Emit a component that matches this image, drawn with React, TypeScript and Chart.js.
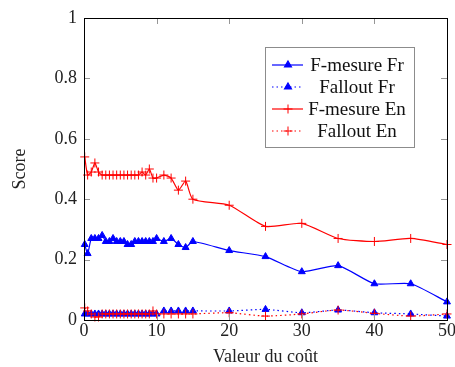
import React, { useEffect, useRef } from "react";
import { Chart, registerables } from "chart.js";

Chart.register(...registerables);

const costValues = [0.1, 0.5, 1, 1.5, 2, 2.5, 3, 3.5, 4, 4.5, 5, 5.5, 6, 6.5, 7, 7.5, 8, 8.5, 9, 9.5, 10, 11, 12, 13, 14, 15, 20, 25, 30, 35, 40, 45, 50];

const fMesureFr = [0.25, 0.22, 0.27, 0.27, 0.27, 0.28, 0.26, 0.26, 0.27, 0.26, 0.26, 0.26, 0.25, 0.25, 0.26, 0.26, 0.26, 0.26, 0.26, 0.26, 0.27, 0.26, 0.27, 0.25, 0.24, 0.26, 0.23, 0.21, 0.16, 0.18, 0.12, 0.12, 0.06];
const falloutFr = [0.02, 0.02, 0.02, 0.02, 0.02, 0.02, 0.02, 0.02, 0.02, 0.02, 0.02, 0.02, 0.02, 0.02, 0.02, 0.02, 0.02, 0.02, 0.02, 0.02, 0.02, 0.03, 0.03, 0.03, 0.03, 0.03, 0.03, 0.035, 0.024, 0.033, 0.024, 0.02, 0.013];
const fMesureEn = [0.54, 0.48, 0.49, 0.52, 0.49, 0.48, 0.48, 0.48, 0.48, 0.48, 0.48, 0.48, 0.48, 0.48, 0.48, 0.48, 0.49, 0.48, 0.5, 0.47, 0.47, 0.48, 0.47, 0.43, 0.46, 0.4, 0.38, 0.31, 0.32, 0.27, 0.26, 0.27, 0.25];
const falloutEn = [0.04, 0.03, 0.02, 0.01, 0.01, 0.02, 0.02, 0.02, 0.02, 0.02, 0.02, 0.02, 0.02, 0.02, 0.02, 0.02, 0.02, 0.02, 0.02, 0.03, 0.02, 0.02, 0.02, 0.02, 0.02, 0.02, 0.024, 0.013, 0.02, 0.033, 0.022, 0.013, 0.02];

const seriesLabels = ["F-mesure Fr", "Fallout Fr", "F-mesure En", "Fallout En"];
const xTitle = "Valeur du coût";
const yTitle = "Score";

const BLUE = "rgb(0,0,255)";
const RED = "rgb(255,0,0)";
const FONT = "'Liberation Serif', serif";

function toPoints(ys: number[]) {
  return costValues.map((x, i) => ({ x, y: ys[i] }));
}

const innerTicks = {
  id: "innerTicks",
  afterDraw(chart: any) {
    const { ctx, chartArea } = chart;
    const { left, right, top, bottom } = chartArea;
    const xs = chart.scales.x;
    const ys = chart.scales.y;
    ctx.save();
    ctx.strokeStyle = "rgb(150,150,150)";
    ctx.lineWidth = 1;
    const L = 6;
    xs.ticks.forEach((t: any) => {
      const px = Math.round(xs.getPixelForValue(t.value)) + 0.5;
      if (px <= left + 1 || px >= right - 1) return;
      ctx.beginPath();
      ctx.moveTo(px, bottom);
      ctx.lineTo(px, bottom - L);
      ctx.moveTo(px, top);
      ctx.lineTo(px, top + L);
      ctx.stroke();
    });
    ys.ticks.forEach((t: any) => {
      const py = Math.round(ys.getPixelForValue(t.value)) + 0.5;
      if (py <= top + 1 || py >= bottom - 1) return;
      ctx.beginPath();
      ctx.moveTo(left, py);
      ctx.lineTo(left + L, py);
      ctx.moveTo(right, py);
      ctx.lineTo(right - L, py);
      ctx.stroke();
    });
    ctx.strokeStyle = "#000";
    ctx.lineWidth = 1;
    ctx.strokeRect(Math.round(left) + 0.5, Math.round(top) + 0.5, Math.round(right - left), Math.round(bottom - top));
    ctx.restore();
  },
};

const boxLegend = {
  id: "boxLegend",
  afterDraw(chart: any) {
    const { ctx } = chart;
    const bx = 265.5, by = 47.5, bw = 149, bh = 100;
    ctx.save();
    ctx.fillStyle = "#fff";
    ctx.fillRect(bx, by, bw, bh);
    ctx.strokeStyle = "rgb(140,140,140)";
    ctx.lineWidth = 1;
    ctx.strokeRect(bx, by, bw, bh);
    const rowY = [65, 87, 109, 131];
    const colors = [BLUE, BLUE, RED, RED];
    const dotted = [false, true, false, true];
    const tri = [true, true, false, false];
    chart.data.datasets.forEach((ds: any, i: number) => {
      const y = rowY[i];
      ctx.strokeStyle = colors[i];
      ctx.lineWidth = 1.2;
      ctx.setLineDash(dotted[i] ? [1.5, 3] : []);
      ctx.beginPath();
      ctx.moveTo(272, y);
      ctx.lineTo(303, y);
      ctx.stroke();
      ctx.setLineDash([]);
      const mx = 288, r = 4;
      if (tri[i]) {
        ctx.fillStyle = colors[i];
        ctx.beginPath();
        ctx.moveTo(mx, y - r);
        ctx.lineTo(mx + r * 0.866, y + r / 2);
        ctx.lineTo(mx - r * 0.866, y + r / 2);
        ctx.closePath();
        ctx.fill();
        ctx.stroke();
      } else {
        ctx.lineWidth = 1;
        ctx.beginPath();
        ctx.moveTo(mx - 4.5, y);
        ctx.lineTo(mx + 4.5, y);
        ctx.moveTo(mx, y - 4.5);
        ctx.lineTo(mx, y + 4.5);
        ctx.stroke();
      }
      ctx.fillStyle = "#111";
      ctx.font = "19px " + FONT;
      ctx.textAlign = "center";
      ctx.textBaseline = "middle";
      ctx.fillText(ds.label, 357, y + 1);
    });
    ctx.restore();
  },
};

function fmt(v: any) {
  return String(Number(Number(v).toFixed(2)));
}

export default function App() {
  const ref = useRef<HTMLCanvasElement>(null);
  useEffect(() => {
    document.body.style.margin = "0";
    const canvas = ref.current;
    if (!canvas) return;
    const chart = new Chart(canvas, {
      type: "line",
      data: {
        datasets: [
          {
            label: seriesLabels[0],
            data: toPoints(fMesureFr),
            borderColor: BLUE,
            backgroundColor: BLUE,
            borderWidth: 1.2,
            pointStyle: "triangle",
            pointRadius: 4,
            pointBorderWidth: 1,
            order: 4,
            clip: false,
          },
          {
            label: seriesLabels[1],
            data: toPoints(falloutFr),
            borderColor: BLUE,
            backgroundColor: BLUE,
            borderWidth: 1.2,
            borderDash: [1.5, 3],
            pointStyle: "triangle",
            pointRadius: 4,
            pointBorderWidth: 1,
            order: 3,
            clip: false,
          },
          {
            label: seriesLabels[2],
            data: toPoints(fMesureEn),
            borderColor: RED,
            backgroundColor: RED,
            borderWidth: 1.2,
            pointStyle: "cross",
            pointRadius: 4.5,
            pointBorderWidth: 1,
            order: 2,
            clip: false,
          },
          {
            label: seriesLabels[3],
            data: toPoints(falloutEn),
            borderColor: RED,
            backgroundColor: RED,
            borderWidth: 1.2,
            borderDash: [1.5, 3],
            pointStyle: "cross",
            pointRadius: 4.5,
            pointBorderWidth: 1,
            order: 1,
            clip: false,
          },
        ] as any,
      },
      options: {
        animation: false,
        responsive: false,
        events: [],
        layout: { padding: { top: 18, right: 8, left: 0, bottom: 0 } },
        plugins: { legend: { display: false }, tooltip: { enabled: false } },
        elements: { line: { tension: 0.2 } },
        scales: {
          x: {
            type: "linear",
            min: 0,
            max: 50,
            grid: { display: false, drawTicks: false },
            border: { display: false },
            ticks: { stepSize: 10, padding: 0, color: "#222", font: { family: FONT, size: 18 }, callback: fmt },
            title: { display: true, text: xTitle, color: "#222", font: { family: FONT, size: 18, lineHeight: 1.1 }, padding: { top: 0, bottom: 0 } },
            afterFit(scale: any) {
              scale.height = 47;
              scale.paddingLeft = 0;
              scale.paddingRight = 0;
            },
          },
          y: {
            type: "linear",
            min: 0,
            max: 1,
            grid: { display: false, drawTicks: false },
            border: { display: false },
            ticks: { stepSize: 0.2, padding: 7, color: "#222", font: { family: FONT, size: 18 }, callback: fmt },
            title: { display: true, text: yTitle, color: "#222", font: { family: FONT, size: 18, lineHeight: 1.1 }, padding: { top: 10, bottom: 0 } },
            afterFit(scale: any) {
              scale.width = 84;
              scale.paddingTop = 0;
              scale.paddingBottom = 0;
            },
          },
        },
      } as any,
      plugins: [innerTicks, boxLegend],
    });
    return () => chart.destroy();
  }, []);
  return (
    <div style={{ position: "absolute", left: 0, top: 0, width: 455, height: 367 }}>
      <canvas ref={ref} width={455} height={367} style={{ display: "block" }} />
    </div>
  );
}
